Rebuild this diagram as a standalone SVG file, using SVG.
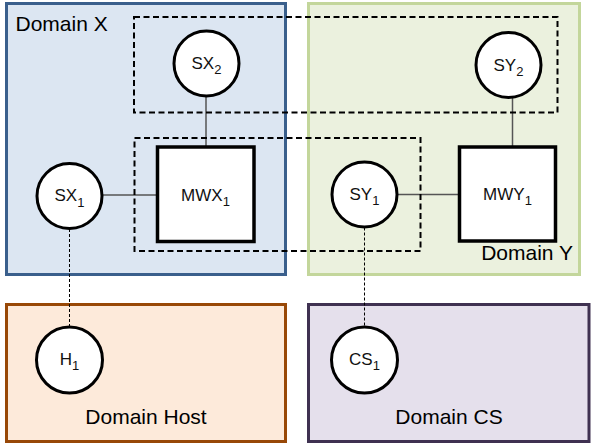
<svg xmlns="http://www.w3.org/2000/svg" width="591" height="444" viewBox="0 0 591 444">
<style>
  .dom { stroke-width: 3; }
  .dlabel { font-family: "Liberation Sans", Arial, sans-serif; font-size: 21px; fill: #000; }
  .node circle, .node rect { fill: #fff; stroke: #000; stroke-width: 3; }
  .node rect { stroke-width: 3.5; }
  .lbl { font-family: "Liberation Sans", Arial, sans-serif; font-size: 17px; fill: #111; text-anchor: middle; }
  .sub { font-size: 13px; }
  .group { fill: none; stroke: #000; stroke-width: 2; stroke-dasharray: 6 3.5; }
  .link { stroke: #555; stroke-width: 1.5; fill: none; }
  .dlink { stroke: #000; stroke-width: 1; stroke-dasharray: 3 2; fill: none; }
</style>

<g id="domain-x">
  <rect class="dom" x="6.5" y="3.5" width="279" height="271" fill="#dce6f2" stroke="#3a5f8c"/>
  <text class="dlabel" x="15.5" y="30.5">Domain X</text>
</g>
<g id="domain-y">
  <rect class="dom" x="308.5" y="3.5" width="271" height="271" fill="#ebf1de" stroke="#c3d69b"/>
  <text class="dlabel" x="573" y="260" text-anchor="end">Domain Y</text>
</g>
<g id="domain-host">
  <rect class="dom" x="6.5" y="304.5" width="279" height="137" fill="#fdeada" stroke="#984807"/>
  <text class="dlabel" x="146" y="423.5" text-anchor="middle">Domain Host</text>
</g>
<g id="domain-cs">
  <rect class="dom" x="308.5" y="304.5" width="280.5" height="137" fill="#e5e0ec" stroke="#3f3151"/>
  <text class="dlabel" x="449" y="423.5" text-anchor="middle">Domain CS</text>
</g>

<g id="connectors">
  <line class="link" x1="102" y1="195" x2="157" y2="195"/>
  <line class="link" x1="206" y1="96.5" x2="206" y2="147"/>
  <line class="link" x1="397.5" y1="194.5" x2="459" y2="194.5"/>
  <line class="link" x1="512.5" y1="98" x2="512.5" y2="147"/>
  <line class="dlink" x1="69.5" y1="229" x2="69.5" y2="327"/>
  <line class="dlink" x1="364.5" y1="227.5" x2="364.5" y2="327"/>
</g>

<g id="group-top">
  <rect class="group" x="134" y="17" width="423.5" height="95.5"/>
</g>
<g id="group-bottom">
  <rect class="group" x="134.5" y="138" width="286" height="113"/>
</g>

<g id="SX2" class="node">
  <circle cx="206.5" cy="63.5" r="32.5"/>
  <text class="lbl" x="206.5" y="69">SX<tspan class="sub" dy="5">2</tspan></text>
</g>
<g id="SY2" class="node">
  <circle cx="508.5" cy="65" r="32.5"/>
  <text class="lbl" x="508.5" y="70.5">SY<tspan class="sub" dy="5">2</tspan></text>
</g>
<g id="SX1" class="node">
  <circle cx="69.5" cy="196" r="32.5"/>
  <text class="lbl" x="69.5" y="201">SX<tspan class="sub" dy="5.5">1</tspan></text>
</g>
<g id="MWX1" class="node">
  <rect x="157.5" y="147" width="96.5" height="94.5"/>
  <text class="lbl" x="205.5" y="200.5">MWX<tspan class="sub" dy="5">1</tspan></text>
</g>
<g id="SY1" class="node">
  <circle cx="364.5" cy="194.5" r="32.5"/>
  <text class="lbl" x="364.5" y="199.5">SY<tspan class="sub" dy="5.5">1</tspan></text>
</g>
<g id="MWY1" class="node">
  <rect x="459.5" y="147" width="96" height="94"/>
  <text class="lbl" x="507.5" y="200">MWY<tspan class="sub" dy="5">1</tspan></text>
</g>
<g id="H1" class="node">
  <circle cx="69.5" cy="360" r="33"/>
  <text class="lbl" x="69.5" y="364.5">H<tspan class="sub" dy="5.5">1</tspan></text>
</g>
<g id="CS1" class="node">
  <circle cx="364.5" cy="360" r="33"/>
  <text class="lbl" x="364.5" y="364.5">CS<tspan class="sub" dy="5.5">1</tspan></text>
</g>
</svg>
